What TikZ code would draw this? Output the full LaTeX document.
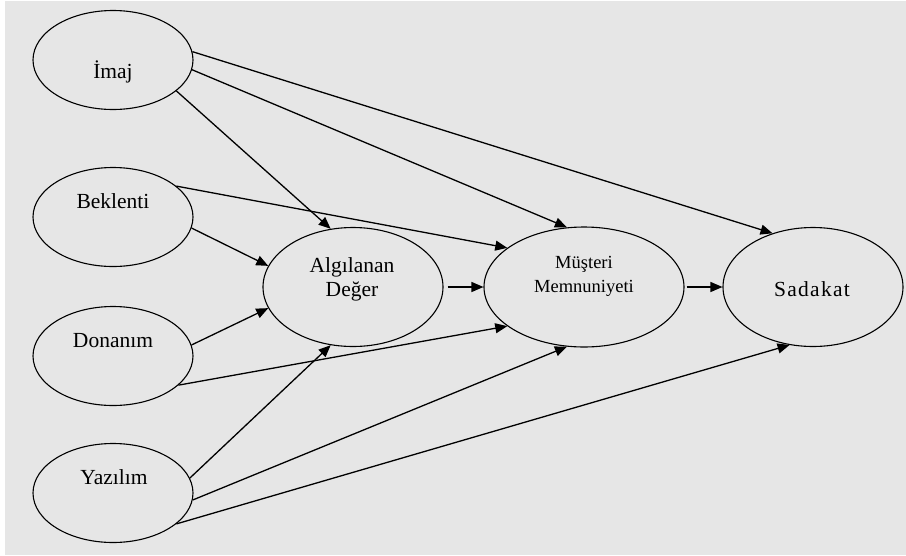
\documentclass[tikz,border=0pt]{standalone}
\usepackage{fontspec}
\setmainfont{Liberation Serif}
\usepackage{tikz}
\usetikzlibrary{shapes.geometric}
\usetikzlibrary{arrows.meta}
\definecolor{bggray}{RGB}{230,230,230}
\tikzstyle{every node}=[font=\fontsize{21.5}{24}\selectfont]
\tikzstyle{oval}=[ellipse, draw, line width=1.1pt, inner sep=0pt]
\tikzstyle{small oval}=[oval, minimum width=160pt, minimum height=99pt]
\tikzstyle{big oval}=[oval, minimum width=180pt, minimum height=119pt]
\tikzstyle{link}=[-{Triangle[length=12pt, width=10pt]}, line width=1.3pt]

\begin{document}
\begin{tikzpicture}[x=1pt, y=-1pt]
    \useasboundingbox (0, 0) rectangle (906, 555);
    \fill [white] (0, 0) rectangle (906, 555);
    \fill [bggray] (5, 1) rectangle (906, 555);

    \node [small oval] (imaj) at (113, 60) {};
    \node [small oval] (beklenti) at (113, 217) {};
    \node [small oval] (donanim) at (113, 356) {};
    \node [small oval] (yazilim) at (113, 493) {};
    \node [big oval] (deger) at (353, 287) {};
    \node [big oval, minimum width=200pt, minimum height=120pt] (memnun) at (584, 287) {};
    \node [big oval] (sadakat) at (813, 287) {};

    \node [anchor=base] (imajtext) at (113, 78) {İmaj};
    \node [anchor=base] (beklentitext) at (113, 208) {Beklenti};
    \node [anchor=base] (donanimtext) at (113, 347) {Donanım};
    \node [anchor=base] (yazilimtext) at (114, 484) {Yazılım};
    \node [anchor=base] (degertext1) at (352, 272) {Algılanan};
    \node [anchor=base] (degertext2) at (352, 296) {Değer};
    \node [anchor=base, font=\fontsize{18.5}{22}\selectfont] (memnuntext1) at (584, 268) {Müşteri};
    \node [anchor=base, font=\fontsize{18.5}{22}\selectfont] (memnuntext2) at (584, 292) {Memnuniyeti};
    \node [anchor=base, font=\fontsize{21.5}{24}\selectfont\addfontfeature{LetterSpace=6}] (sadakattext) at (812, 296) {Sadakat};

    \draw [link] (imaj.6) -- (sadakat.127);
    \draw [link] (imaj.-7) -- (memnun.106);
    \draw [link] (imaj.-26) -- (deger.111);

    \draw [link] (beklenti.26) -- (memnun.153);
    \draw [link] (beklenti.-8) -- (deger.166);

    \draw [link] (donanim.8) -- (deger.194);
    \draw [link] (donanim.-24) -- (memnun.207);

    \draw [link] (yazilim.11) -- (deger.249);
    \draw [link] (yazilim.-5) -- (memnun.254);
    \draw [link] (yazilim.-26) -- (sadakat.248);

    \draw [link, shorten <=4pt] (deger.east) -- (memnun.west);
    \draw [link, shorten <=2pt] (memnun.east) -- (sadakat.west);
\end{tikzpicture}
\end{document}
